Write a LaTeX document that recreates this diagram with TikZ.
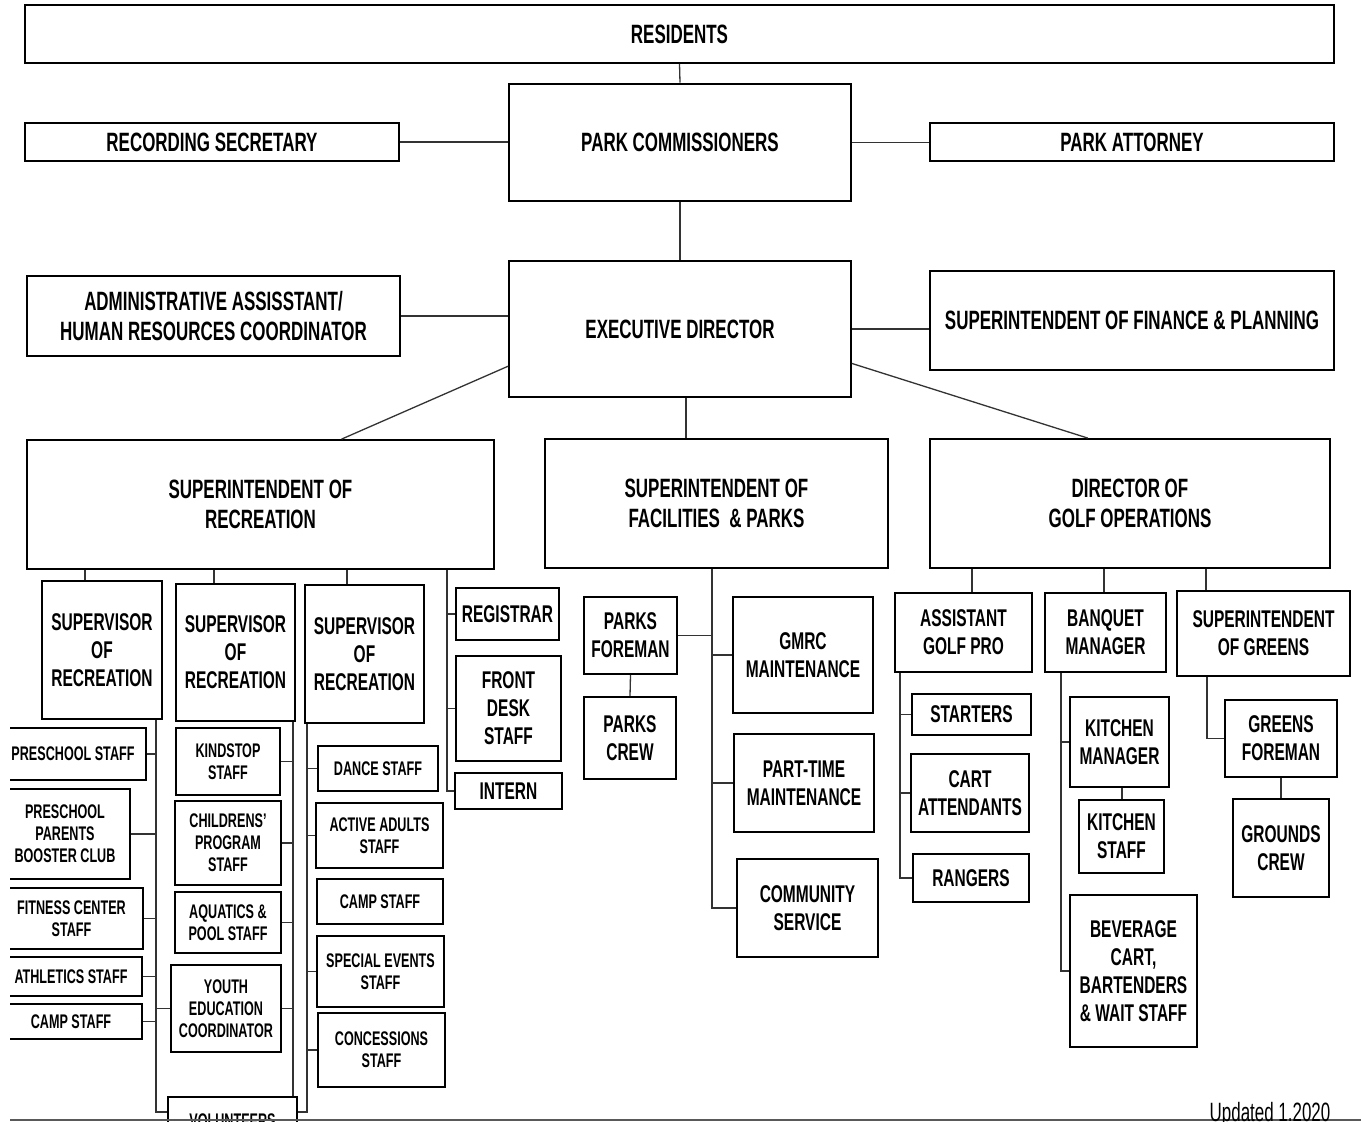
\documentclass[tikz,border=0pt]{standalone}
\usepackage{fontspec}
\setmainfont{Liberation Sans}[FakeStretch=0.64]
\usetikzlibrary{calc}

\newcommand{\bigtxt}{\fontsize{26.5}{30}\selectfont\bfseries}
\newcommand{\midtxt}{\fontsize{24.2}{28}\selectfont\bfseries}
\newcommand{\smalltxt}{\fontsize{19.7}{22}\selectfont\bfseries}

\begin{document}
\begin{tikzpicture}[x=1pt,y=-1pt,
  orgbox/.style={draw, line width=1.8pt, inner sep=0pt, align=center, font=\midtxt},
  thickbox/.style={orgbox, line width=2.8pt},
  link/.style={line width=1.3pt, black!80}]

\fill[white] (0,0) rectangle (1361,1122);
\useasboundingbox (0,0) rectangle (1361,1122);

% top of the chart
\node[orgbox, font=\bigtxt, minimum width=1309, minimum height=58] (residents) at (679.5,34) {RESIDENTS};
\node[thickbox, font=\bigtxt, minimum width=342, minimum height=117] (parkcomm) at (680,142.5) {PARK COMMISSIONERS};
\node[orgbox, font=\bigtxt, minimum width=374, minimum height=38] (recsec) at (212,142) {RECORDING SECRETARY};
\node[orgbox, font=\bigtxt, minimum width=404, minimum height=38] (attorney) at (1132,142) {PARK ATTORNEY};
\node[orgbox, font=\bigtxt, minimum width=342, minimum height=136] (execdir) at (680,329) {EXECUTIVE DIRECTOR};
\node[thickbox, font=\bigtxt, minimum width=373, minimum height=80] (admin) at (213.5,316) {ADMINISTRATIVE ASSISSTANT/\\HUMAN RESOURCES COORDINATOR};
\node[orgbox, font=\bigtxt, minimum width=404, minimum height=99] (finance) at (1132,320.5) {SUPERINTENDENT OF FINANCE \& PLANNING};
\node[orgbox, font=\bigtxt, minimum width=467, minimum height=129] (suptrec) at (260.5,504.5) {SUPERINTENDENT OF\\RECREATION};
\node[orgbox, font=\bigtxt, minimum width=343, minimum height=129] (suptfac) at (716.5,503.5) {SUPERINTENDENT OF\\FACILITIES \ \& PARKS};
\node[orgbox, font=\bigtxt, minimum width=400, minimum height=129] (golfdir) at (1130,503.5) {DIRECTOR OF\\GOLF OPERATIONS};

\draw[link] (residents.south) -- (parkcomm.north);
\draw[link] (parkcomm.south) -- (execdir.north);
\draw[link] (recsec.east) -- (recsec.east -| parkcomm.west);
\draw[link] (parkcomm.east) -- (parkcomm.east -| attorney.west);
\draw[link] (admin.east) -- (admin.east -| execdir.west);
\draw[link] (execdir.east) -- (execdir.east -| finance.west);
\draw[link] ($(execdir.south west)!0.23!(execdir.north west)$) -- ($(suptrec.north west)!0.673!(suptrec.north east)$);
\draw[link] ($(execdir.south east)!0.25!(execdir.north east)$) -- ($(golfdir.north west)!0.395!(golfdir.north east)$);
\draw[link] ([xshift=6pt]execdir.south) -- ([xshift=6pt]execdir.south |- suptfac.north);

% recreation
\node[thickbox, minimum width=120, minimum height=138] (sup1) at (102,650) {SUPERVISOR\\OF\\RECREATION};
\node[orgbox, minimum width=119, minimum height=137] (sup2) at (235.5,652.5) {SUPERVISOR\\OF\\RECREATION};
\node[thickbox, minimum width=119, minimum height=138] (sup3) at (364.5,654) {SUPERVISOR\\OF\\RECREATION};
\node[orgbox, minimum width=103, minimum height=52] (registrar) at (507.5,614) {REGISTRAR};
\node[orgbox, minimum width=105, minimum height=105] (frontdesk) at (508.5,708.5) {FRONT\\DESK\\STAFF};
\node[orgbox, minimum width=107, minimum height=36] (intern) at (508.5,791) {INTERN};

\begin{scope}
  \clip (10,700) rectangle (170,1060);
  \node[thickbox, font=\smalltxt, minimum width=146, minimum height=52] (preschool) at (73,754) {PRESCHOOL STAFF};
  \node[orgbox, font=\smalltxt, minimum width=130, minimum height=90] (parents) at (65,834) {PRESCHOOL\\PARENTS\\BOOSTER CLUB};
  \node[orgbox, font=\smalltxt, minimum width=143, minimum height=61] (fitness) at (71.5,918.5) {FITNESS CENTER\\STAFF};
  \node[orgbox, font=\smalltxt, minimum width=142, minimum height=39] (athletics) at (71,976.5) {ATHLETICS STAFF};
  \node[orgbox, font=\smalltxt, minimum width=142, minimum height=35] (campleft) at (71,1021.5) {CAMP STAFF};
\end{scope}

\node[orgbox, font=\smalltxt, minimum width=104, minimum height=67] (kindstop) at (228,761.5) {KINDSTOP\\STAFF};
\node[thickbox, font=\smalltxt, minimum width=106, minimum height=84] (childrens) at (228,843) {CHILDRENS’\\PROGRAM\\STAFF};
\node[thickbox, font=\smalltxt, minimum width=106, minimum height=61] (aquatics) at (228,922.5) {AQUATICS \&\\POOL STAFF};
\node[orgbox, font=\smalltxt, minimum width=110, minimum height=87] (youth) at (226,1008.5) {YOUTH\\EDUCATION\\COORDINATOR};
\node[thickbox, font=\smalltxt, minimum width=129, minimum height=48] (volunteers) at (232.5,1121) {VOLUNTEERS};
\node[orgbox, font=\smalltxt, minimum width=120, minimum height=45] (dance) at (378,768.5) {DANCE STAFF};
\node[orgbox, font=\smalltxt, minimum width=127, minimum height=65] (active) at (379.5,835.5) {ACTIVE ADULTS\\STAFF};
\node[orgbox, font=\smalltxt, minimum width=126, minimum height=45] (campmid) at (380,901.5) {CAMP STAFF};
\node[thickbox, font=\smalltxt, minimum width=127, minimum height=71] (special) at (380.5,971.5) {SPECIAL EVENTS\\STAFF};
\node[thickbox, font=\smalltxt, minimum width=127, minimum height=74] (concessions) at (381.5,1050) {CONCESSIONS\\STAFF};

\draw[link] (suptrec.south -| 85,0) -- (sup1.north -| 85,0);
\draw[link] (suptrec.south -| 214,0) -- (sup2.north -| 214,0);
\draw[link] (suptrec.south -| 347,0) -- (sup3.north -| 347,0);
\draw[link] (suptrec.south -| 447,0) |- (intern.west);
\draw[link] (registrar.west) -- (registrar.west -| 447,0);
\draw[link] (frontdesk.west) -- (frontdesk.west -| 447,0);

\draw[link] (sup1.south -| 156,0) |- (volunteers.west |- 0,1112);
\foreach \n in {preschool,parents,fitness,athletics,campleft}
  \draw[link] (\n.east) -- (\n.east -| 156,0);
\draw[link] (youth.west) -- (youth.west -| 156,0);

\draw[link] (sup2.south -| 293,0) -- (volunteers.north -| 293,0);
\foreach \n in {kindstop,childrens,aquatics,youth}
  \draw[link] (\n.east) -- (\n.east -| 293,0);

\draw[link] (sup3.south -| 307,0) |- (volunteers.east |- 0,1112);
\foreach \n in {dance,active,special,concessions}
  \draw[link] (\n.west) -- (\n.west -| 307,0);

% facilities
\node[orgbox, minimum width=93, minimum height=77] (parksforeman) at (630.5,635.5) {PARKS\\FOREMAN};
\node[orgbox, minimum width=92, minimum height=82] (parkscrew) at (630,738) {PARKS\\CREW};
\node[orgbox, minimum width=140, minimum height=116] (gmrc) at (803,655) {GMRC\\MAINTENANCE};
\node[orgbox, minimum width=140, minimum height=98] (parttime) at (804,783) {PART-TIME\\MAINTENANCE};
\node[orgbox, minimum width=141, minimum height=98] (community) at (807.5,908) {COMMUNITY\\SERVICE};

\draw[link] (suptfac.south -| 712,0) |- (community.west);
\draw[link] (parksforeman.east) -- (parksforeman.east -| 712,0);
\draw[link] (gmrc.west) -- (gmrc.west -| 712,0);
\draw[link] (parttime.west) -- (parttime.west -| 712,0);
\draw[link] (parksforeman.south) -- (parkscrew.north);

% golf
\node[orgbox, minimum width=137, minimum height=79] (asstpro) at (963.5,632.5) {ASSISTANT\\GOLF PRO};
\node[thickbox, minimum width=121, minimum height=79] (banquet) at (1105.5,632.5) {BANQUET\\MANAGER};
\node[orgbox, minimum width=173, minimum height=85] (suptgreens) at (1263.5,633.5) {SUPERINTENDENT\\OF GREENS};
\node[orgbox, minimum width=119, minimum height=41] (starters) at (971.5,714.5) {STARTERS};
\node[orgbox, minimum width=118, minimum height=78] (cart) at (970,793) {CART\\ATTENDANTS};
\node[orgbox, minimum width=116, minimum height=48] (rangers) at (971,878) {RANGERS};
\node[thickbox, minimum width=99, minimum height=90] (kitchenmgr) at (1119.5,742) {KITCHEN\\MANAGER};
\node[thickbox, minimum width=85, minimum height=73] (kitchenstaff) at (1121.5,836.5) {KITCHEN\\STAFF};
\node[thickbox, minimum width=127, minimum height=152] (beverage) at (1133.5,971) {BEVERAGE\\CART,\\BARTENDERS\\\& WAIT STAFF};
\node[thickbox, minimum width=112, minimum height=77] (greensforeman) at (1281,738.5) {GREENS\\FOREMAN};
\node[orgbox, minimum width=96, minimum height=98] (groundscrew) at (1281,848) {GROUNDS\\CREW};

\draw[link] (golfdir.south -| 972,0) -- (asstpro.north -| 972,0);
\draw[link] (golfdir.south -| 1104,0) -- (banquet.north -| 1104,0);
\draw[link] (golfdir.south -| 1206,0) -- (suptgreens.north -| 1206,0);
\draw[link] (asstpro.south -| 900,0) |- (rangers.west);
\draw[link] (starters.west) -- (starters.west -| 900,0);
\draw[link] (cart.west) -- (cart.west -| 900,0);
\draw[link] (banquet.south -| 1061,0) |- (beverage.west);
\draw[link] (kitchenmgr.west) -- (kitchenmgr.west -| 1061,0);
\draw[link] (kitchenmgr.south -| 1122,0) -- (kitchenstaff.north -| 1122,0);
\draw[link] (suptgreens.south -| 1207,0) |- (greensforeman.west);
\draw[link] (greensforeman.south) -- (groundscrew.north);

% page foot
\draw[black!65, line width=2pt] (10,1120) -- (1361,1120);
\node[font=\fontsize{26.5}{30}\selectfont, anchor=base, inner sep=0pt] (updated) at (1270,1121) {Updated 1.2020};

\end{tikzpicture}
\end{document}
